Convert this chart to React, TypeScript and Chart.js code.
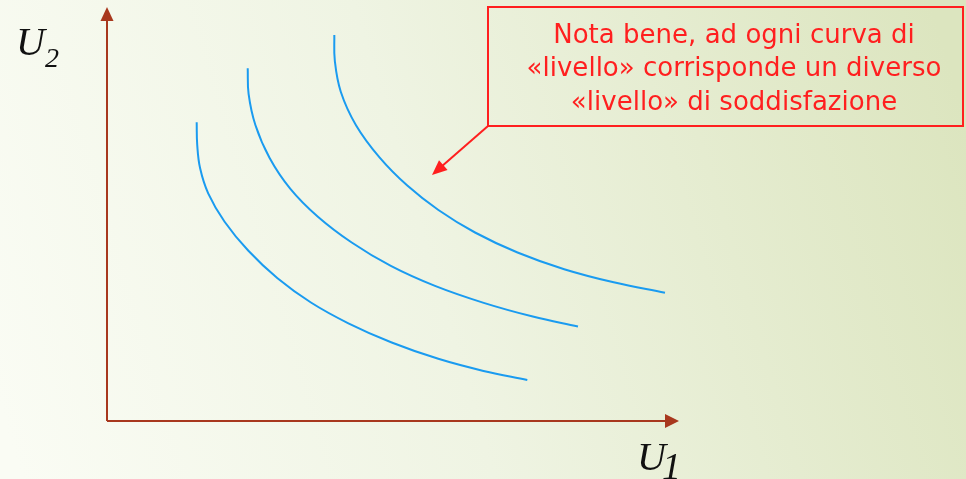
import { useEffect, useRef } from 'react';
import { Chart, registerables } from 'chart.js';

Chart.register(...registerables);

// Indifference curves (U1, U2); axes run 0..10 in both directions
const curve1U1 = [1.568, 1.577, 1.628, 1.769, 2.056, 2.472, 2.981, 3.565, 4.220, 4.977, 5.792, 6.582, 7.348];
const curve1U2 = [7.215, 6.676, 6.104, 5.500, 4.814, 4.111, 3.447, 2.862, 2.360, 1.896, 1.502, 1.210, 0.990];

const curve2U1 = [2.460, 2.476, 2.594, 2.843, 3.206, 3.687, 4.278, 4.962, 5.734, 6.586, 7.444, 8.234];
const curve2U2 = [8.519, 7.894, 7.150, 6.355, 5.609, 4.935, 4.312, 3.746, 3.263, 2.853, 2.522, 2.283];

const curve3U1 = [3.974, 3.983, 4.087, 4.353, 4.764, 5.250, 5.794, 6.434, 7.177, 7.993, 8.858, 9.755];
const curve3U2 = [9.324, 8.700, 7.954, 7.145, 6.367, 5.686, 5.097, 4.553, 4.070, 3.667, 3.350, 3.099];

const axisMax = [10, 10]; // U1, U2
const axisLabels = ['U', 'U'];
const axisSubs = ['1', '2'];

const noteLines = [
  'Nota bene, ad ogni curva di',
  '«livello» corrisponde un diverso',
  '«livello» di soddisfazione',
];

const toPoints = (xs: number[], ys: number[]) => xs.map((x, i) => ({ x, y: ys[i] }));

const CURVE_COLOR = '#1a9bf0';
const AXIS_COLOR = '#a8381e';
const NOTE_COLOR = '#ff1f1f';

function arrowHead(ctx: CanvasRenderingContext2D, x0: number, y0: number, x1: number, y1: number, len: number, half: number) {
  const a = Math.atan2(y1 - y0, x1 - x0);
  const bx = x1 - len * Math.cos(a);
  const by = y1 - len * Math.sin(a);
  ctx.beginPath();
  ctx.moveTo(x1, y1);
  ctx.lineTo(bx + half * Math.sin(a), by - half * Math.cos(a));
  ctx.lineTo(bx - half * Math.sin(a), by + half * Math.cos(a));
  ctx.closePath();
  ctx.fill();
}

const diagramPlugin = {
  id: 'diagram',
  beforeDraw(chart: any) {
    const { ctx, width, height } = chart;
    ctx.save();
    const g = ctx.createLinearGradient(0, height * 0.85, width, height * 0.25);
    g.addColorStop(0, '#fafcf4');
    g.addColorStop(0.45, '#eff4e3');
    g.addColorStop(1, '#dce5bf');
    ctx.fillStyle = g;
    ctx.fillRect(0, 0, width, height);
    ctx.restore();
  },
  beforeDatasetsDraw(chart: any) {
    const { ctx } = chart;
    const xs = chart.scales.x;
    const ys = chart.scales.y;
    const ox = xs.getPixelForValue(0);
    const oy = ys.getPixelForValue(0);
    const xt = xs.getPixelForValue(axisMax[0]);
    const yt = ys.getPixelForValue(axisMax[1]);
    ctx.save();
    ctx.strokeStyle = AXIS_COLOR;
    ctx.fillStyle = AXIS_COLOR;
    ctx.lineWidth = 2;
    ctx.beginPath();
    ctx.moveTo(ox, oy);
    ctx.lineTo(xt - 12, oy);
    ctx.moveTo(ox, oy);
    ctx.lineTo(ox, yt + 12);
    ctx.stroke();
    arrowHead(ctx, ox, oy, xt, oy, 14, 7);
    arrowHead(ctx, ox, oy, ox, yt, 14, 6.5);

    // axis labels
    ctx.fillStyle = '#111111';
    ctx.textAlign = 'left';
    ctx.textBaseline = 'alphabetic';
    ctx.font = 'italic 40px "Liberation Serif"';
    ctx.fillText(axisLabels[1], ox - 91, yt + 48);
    ctx.font = 'italic 28px "Liberation Serif"';
    ctx.fillText(axisSubs[1], ox - 62, yt + 60);
    ctx.font = 'italic 40px "Liberation Serif"';
    ctx.fillText(axisLabels[0], xt - 42, oy + 49);
    ctx.font = 'italic 38px "Liberation Serif"';
    ctx.fillText(axisSubs[0], xt - 17, oy + 58);
    ctx.restore();
  },
  afterDatasetsDraw(chart: any) {
    const { ctx } = chart;
    ctx.save();
    // note box
    const bx = 488, by = 7, bw = 475, bh = 119;
    ctx.strokeStyle = NOTE_COLOR;
    ctx.fillStyle = NOTE_COLOR;
    ctx.lineWidth = 2;
    ctx.strokeRect(bx, by, bw, bh);
    // pointer arrow
    const tx = 432, ty = 175;
    ctx.beginPath();
    ctx.moveTo(bx, by + bh);
    ctx.lineTo(tx + 9, ty - 8);
    ctx.stroke();
    arrowHead(ctx, bx, by + bh, tx, ty, 15, 6.5);

    // note text
    ctx.font = '26px "DejaVu Sans"';
    const widest = Math.max(...noteLines.map((l) => ctx.measureText(l).width));
    const target = 415;
    const longest = Math.max(...noteLines.map((l) => l.length));
    const ls = (target - widest) / longest;
    try {
      (ctx as any).letterSpacing = ls.toFixed(2) + 'px';
    } catch (e) {}
    ctx.textAlign = 'center';
    ctx.textBaseline = 'alphabetic';
    const baselines = [43, 76, 110];
    noteLines.forEach((l, i) => ctx.fillText(l, 734 + ls / 2, baselines[i]));
    ctx.restore();
  },
};

export default function App() {
  const ref = useRef<HTMLCanvasElement | null>(null);
  useEffect(() => {
    document.body.style.margin = '0';
    document.body.style.overflow = 'hidden';
    const canvas = ref.current;
    if (!canvas) return;
    const W = 966, H = 479;
    const inset = 1; // chart area inset caused by the line width
    const ox = 107, oy = 421; // pixel position of the origin
    const pxPerU1 = 57.2, pxPerU2 = 41.4;
    const xMin = -(ox - inset) / pxPerU1;
    const xMax = xMin + (W - 2 * inset) / pxPerU1;
    const yMax = (oy - inset) / pxPerU2;
    const yMin = yMax - (H - 2 * inset) / pxPerU2;
    const lineDs = (xs: number[], ys: number[]) => ({
      data: toPoints(xs, ys),
      borderColor: CURVE_COLOR,
      borderWidth: 2,
      pointRadius: 0,
      pointHoverRadius: 0,
      pointBorderWidth: 0,
      tension: 0.4,
      fill: false,
    });
    const chart = new Chart(canvas, {
      type: 'line',
      data: {
        datasets: [
          lineDs(curve1U1, curve1U2),
          lineDs(curve2U1, curve2U2),
          lineDs(curve3U1, curve3U2),
        ],
      },
      options: {
        responsive: false,
        animation: false,
        devicePixelRatio: 1,
        layout: { padding: 0 },
        plugins: { legend: { display: false }, tooltip: { enabled: false } },
        events: [],
        scales: {
          x: { type: 'linear', display: false, min: xMin, max: xMax },
          y: { type: 'linear', display: false, min: yMin, max: yMax },
        },
      },
      plugins: [diagramPlugin],
    });
    chart.update('none');
    return () => chart.destroy();
  }, []);
  return <canvas ref={ref} width={966} height={479} style={{ display: 'block' }} />;
}
